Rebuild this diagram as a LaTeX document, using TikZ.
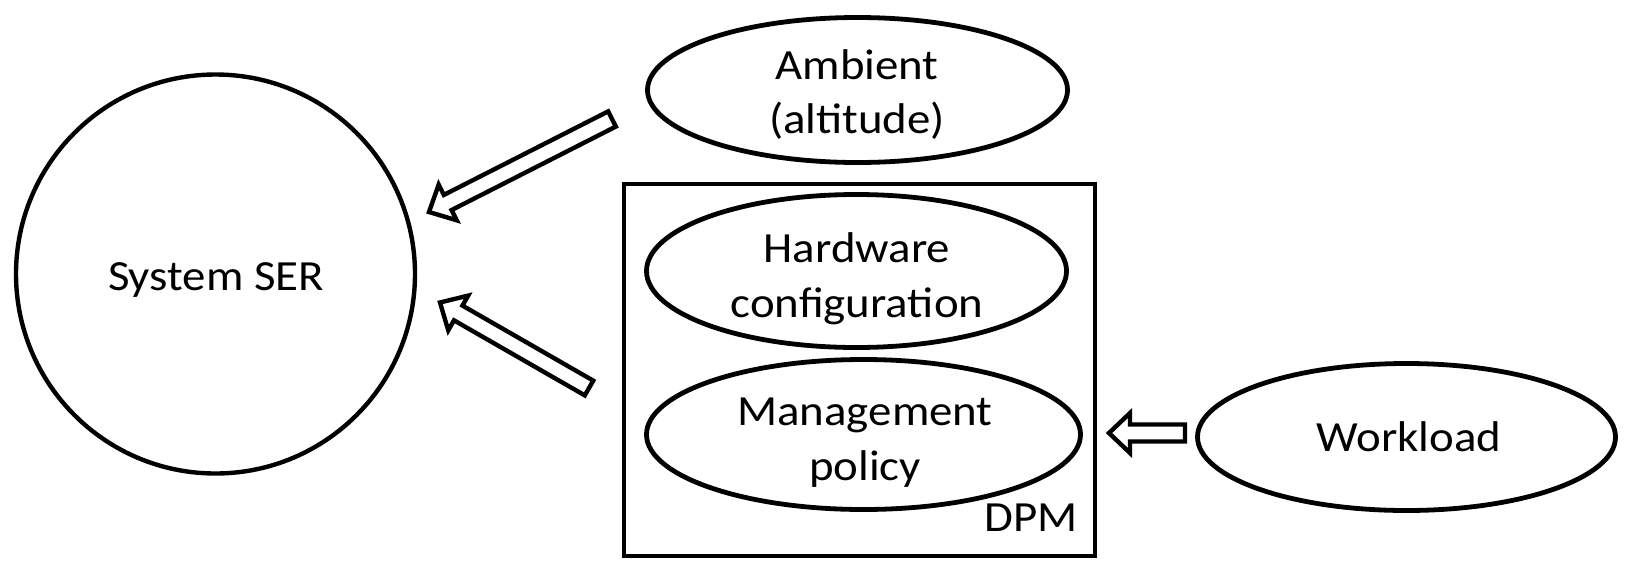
\documentclass[tikz,border=0pt]{standalone}
\usepackage{fontspec}
\setmainfont{Carlito}[FakeStretch=1.09]
\usetikzlibrary{shapes.geometric,calc}

% block arrow: #1 = tail coordinate, #2 = tip coordinate
\newcommand\blockarrow[2]{%
  \coordinate (ba-base) at ($(#2)!\headlen!(#1)$);
  \draw[blockarrow]
    ($(#1)!\shafthw!90:(#2)$) -- ($(ba-base)!\shafthw!90:(#2)$) --
    ($(ba-base)!\headhw!90:(#2)$) -- (#2) --
    ($(ba-base)!\headhw!-90:(#2)$) -- ($(ba-base)!\shafthw!-90:(#2)$) --
    ($(#1)!\shafthw!-90:(#2)$) -- cycle;}
\newcommand\shafthw{8.5pt}
\newcommand\headhw{20pt}
\newcommand\headlen{21pt}

\begin{document}
\begin{tikzpicture}[x=1pt,y=-1pt,
    lbl/.style={font=\fontsize{43}{55}\selectfont,anchor=base,inner sep=0pt},
    outline/.style={draw=black,line width=4.4pt},
    oval/.style={draw=black,line width=4.8pt,ellipse,inner sep=0pt},
    blockarrow/.style={draw=black,line width=4.4pt,fill=white,line join=miter}]
  \useasboundingbox (0,0) rectangle (1627,560);

  % system soft error rate
  \node[outline,circle,inner sep=0pt,minimum size=399pt] (ser) at (215.5,274) {};
  \node[lbl] (ser-l) at (216,290) {System SER};

  % ambient conditions
  \node[oval,minimum width=420pt,minimum height=145pt] (amb) at (857.5,90) {};
  \node[lbl] (amb-l1) at (857,79) {Ambient};
  \node[lbl] (amb-l2) at (857,133) {(altitude)};

  % dynamic power management block
  \draw[outline] (624,184) rectangle (1095,556);
  \node[oval,minimum width=420pt,minimum height=153pt] (hw) at (856.5,271) {};
  \node[lbl] (hw-l1) at (857,262) {Hardware};
  \node[lbl] (hw-l2) at (857,317) {configuration};
  \node[oval,minimum width=434pt,minimum height=150pt] (mp) at (863.5,434.5) {};
  \node[lbl] (mp-l1) at (865,425) {Management};
  \node[lbl] (mp-l2) at (865,480) {policy};
  \node[lbl,anchor=base east] (dpm) at (1078,531) {DPM};

  % workload
  \node[oval,minimum width=418pt,minimum height=147pt] (wl) at (1406.5,437) {};
  \node[lbl] (wl-l) at (1409,451.5) {Workload};

  % arrow end points
  \coordinate (amb-out) at (612,119);
  \coordinate (ser-in1) at (429,212);
  \coordinate (dpm-out) at (589,388);
  \coordinate (ser-in2) at (440,302.5);
  \coordinate (wl-out) at (1185,433);
  \coordinate (dpm-in) at (1109,433);

  \blockarrow{amb-out}{ser-in1}
  \blockarrow{dpm-out}{ser-in2}
  \blockarrow{wl-out}{dpm-in}
\end{tikzpicture}
\end{document}
